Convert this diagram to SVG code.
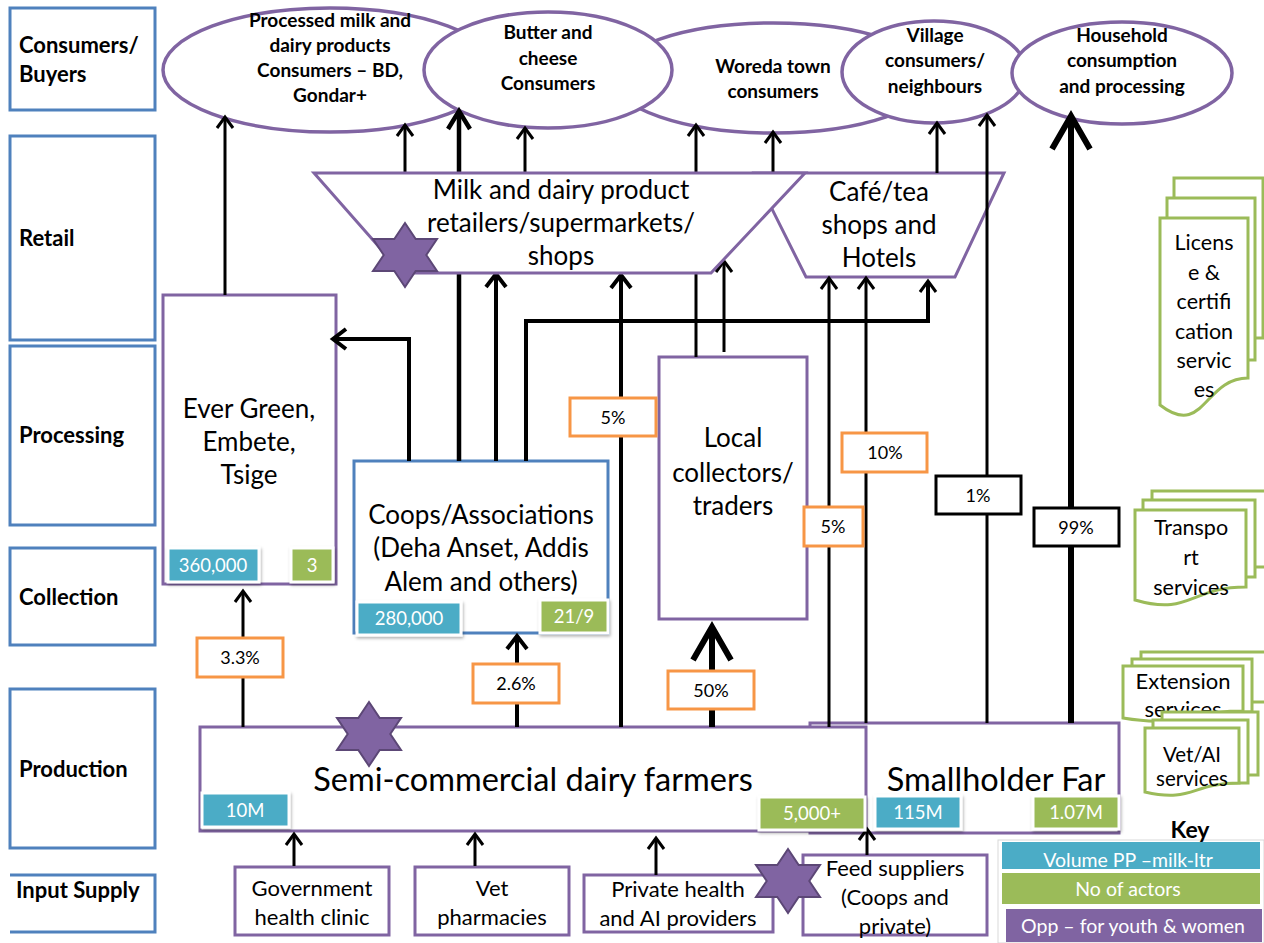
<svg xmlns="http://www.w3.org/2000/svg" width="1264" height="943" viewBox="0 0 1264 943">
<style>
.stage{fill:#fff;stroke:#4F81BD;stroke-width:3}
.stl{font-family:Lato,"Liberation Sans",sans-serif;font-weight:bold;font-size:22px;fill:#000}
.ell{fill:#fff;stroke:#8064A2;stroke-width:3.5}
.et{font-family:Lato,"Liberation Sans",sans-serif;font-weight:bold;font-size:19px;fill:#000;text-anchor:middle}
.pbox{fill:#fff;stroke:#8064A2;stroke-width:3}
.bbox{fill:#fff;stroke:#4F81BD;stroke-width:3}
.t24{font-family:Lato,"Liberation Sans",sans-serif;font-size:26px;fill:#000;text-anchor:middle}
.t21{font-family:Lato,"Liberation Sans",sans-serif;font-size:22px;fill:#000;text-anchor:middle}
.td{font-family:Lato,"Liberation Sans",sans-serif;font-size:21.5px;fill:#000;text-anchor:middle}
.t30{font-family:Lato,"Liberation Sans",sans-serif;font-size:32.5px;fill:#000;text-anchor:middle}
.pct{fill:#fff;stroke:#F79646;stroke-width:3}
.pctk{fill:#fff;stroke:#000;stroke-width:3}
.pt{font-family:Lato,"Liberation Sans",sans-serif;font-size:18px;fill:#000;text-anchor:middle}
.teal{fill:#4BACC6;stroke:#fff;stroke-width:3;filter:url(#sh)}
.grn{fill:#9BBB59;stroke:#fff;stroke-width:3;filter:url(#sh)}
.bt{font-family:Lato,"Liberation Sans",sans-serif;font-size:18.5px;fill:#fff;text-anchor:middle}
.doc{fill:#fff;stroke:#9BBB59;stroke-width:3}
.ln{fill:none;stroke:#000;stroke-width:3}
.ln4{fill:none;stroke:#000;stroke-width:4}
.ln6{fill:none;stroke:#000;stroke-width:6}
.star{fill:#8064A2;stroke:#5C4776;stroke-width:2}
.kt{font-family:Lato,"Liberation Sans",sans-serif;font-size:19.5px;fill:#fff;text-anchor:middle}
</style>
<defs>
<filter id="sh" x="-20%" y="-20%" width="140%" height="150%"><feDropShadow dx="1" dy="2" stdDeviation="1.5" flood-color="#000" flood-opacity="0.3"/></filter>
<marker id="ms" markerUnits="userSpaceOnUse" markerWidth="30" markerHeight="30" refX="0" refY="0" orient="auto" overflow="visible"><path d="M-11,-8 L0,0 L-11,8" fill="none" stroke="#000" stroke-width="3"/></marker>
<marker id="mm" markerUnits="userSpaceOnUse" markerWidth="30" markerHeight="30" refX="0" refY="0" orient="auto" overflow="visible"><path d="M-13,-10 L0,0 L-13,10" fill="none" stroke="#000" stroke-width="4"/></marker>
<marker id="mb" markerUnits="userSpaceOnUse" markerWidth="30" markerHeight="30" refX="0" refY="0" orient="auto" overflow="visible"><path d="M-18,-11 L0,0 L-18,11" fill="none" stroke="#000" stroke-width="4.5"/></marker>
<marker id="ml" markerUnits="userSpaceOnUse" markerWidth="60" markerHeight="60" refX="0" refY="0" orient="auto" overflow="visible"><path d="M-33,-19 L0,0 L-33,19" fill="none" stroke="#000" stroke-width="6"/></marker>
<polygon id="star6" points="0,-32 10.7,-16 32,-16 21.3,0 32,16 10.7,16 0,32 -10.7,16 -32,16 -21.3,0 -32,-16 -10.7,-16"/>
</defs>
<rect width="1264" height="943" fill="#fff"/>

<!-- stage column -->
<g id="stage-consumers"><rect class="stage" x="10" y="8" width="145" height="102"/><text class="stl" x="19" y="53">Consumers/</text><text class="stl" x="19" y="82">Buyers</text></g>
<g id="stage-retail"><rect class="stage" x="10" y="136" width="145" height="204"/><text class="stl" x="19" y="246">Retail</text></g>
<g id="stage-processing"><rect class="stage" x="10" y="346" width="145" height="179"/><text class="stl" x="19" y="443">Processing</text></g>
<g id="stage-collection"><rect class="stage" x="10" y="548" width="145" height="97"/><text class="stl" x="19" y="605">Collection</text></g>
<g id="stage-production"><rect class="stage" x="10" y="689" width="145" height="159"/><text class="stl" x="19" y="777">Production</text></g>
<g id="stage-input"><path class="stage" d="M10,875 H155 V932 H10"/><text class="stl" x="16" y="898">Input Supply</text></g>

<!-- consumer ellipses -->
<g id="ell-processed"><ellipse class="ell" cx="330" cy="70" rx="167" ry="62"/>
<text class="et" x="330" y="27">Processed milk and</text><text class="et" x="330" y="52">dairy products</text><text class="et" x="330" y="77">Consumers – BD,</text><text class="et" x="330" y="102">Gondar+</text></g>
<g id="ell-woreda"><ellipse class="ell" cx="773" cy="78" rx="160" ry="55"/>
<text class="et" x="773" y="73">Woreda town</text><text class="et" x="773" y="98">consumers</text></g>
<g id="ell-butter"><ellipse class="ell" cx="548" cy="70" rx="124" ry="58"/>
<text class="et" x="548" y="39">Butter and</text><text class="et" x="548" y="65">cheese</text><text class="et" x="548" y="90">Consumers</text></g>
<g id="ell-village"><ellipse class="ell" cx="934" cy="72" rx="92" ry="51"/>
<text class="et" x="935" y="42">Village</text><text class="et" x="935" y="67">consumers/</text><text class="et" x="935" y="93">neighbours</text></g>
<g id="ell-household"><ellipse class="ell" cx="1122" cy="73" rx="110" ry="51"/>
<text class="et" x="1122" y="42">Household</text><text class="et" x="1122" y="67">consumption</text><text class="et" x="1122" y="93">and processing</text></g>

<!-- cafe trapezoid -->
<g id="cafe"><polygon class="pbox" points="754,173 1004,173 955,277 806,277"/>
<text class="t24" x="879" y="201">Café/tea</text><text class="t24" x="879" y="234">shops and</text><text class="t24" x="879" y="267">Hotels</text></g>

<!-- processing / collection boxes -->
<g id="evergreen"><rect class="pbox" x="163" y="295" width="173" height="289"/>
<text class="t24" x="249" y="418">Ever Green,</text><text class="t24" x="249" y="451">Embete,</text><text class="t24" x="249" y="484">Tsige</text></g>
<g id="coops"><rect class="bbox" x="354" y="461" width="254" height="172"/>
<text class="t24" x="481" y="524">Coops/Associations</text><text class="t24" x="481" y="557">(Deha Anset, Addis</text><text class="t24" x="481" y="591">Alem and others)</text></g>
<g id="local"><rect class="pbox" x="659" y="357" width="148" height="262"/>
<text class="t24" x="733" y="447">Local</text><text class="t24" x="733" y="482">collectors/</text><text class="t24" x="733" y="515">traders</text></g>

<!-- production -->
<g id="smallholder"><rect class="pbox" x="810" y="723" width="309" height="110"/>
<text class="t30" x="996" y="791">Smallholder Far</text></g>
<g id="semicommercial"><rect class="pbox" x="200" y="727" width="666" height="104"/>
<text class="t30" x="533" y="791">Semi-commercial dairy farmers</text></g>

<!-- input supply -->
<g id="in-gov"><rect class="pbox" x="235" y="867" width="154" height="68"/><text class="t21" x="312" y="896">Government</text><text class="t21" x="312" y="925">health clinic</text></g>
<g id="in-vet"><rect class="pbox" x="415" y="867" width="154" height="68"/><text class="t21" x="492" y="896">Vet</text><text class="t21" x="492" y="925">pharmacies</text></g>
<g id="in-private"><rect class="pbox" x="584" y="875" width="189" height="57"/><text class="t21" x="678" y="897">Private health</text><text class="t21" x="678" y="926">and AI providers</text></g>
<g id="in-feed"><rect class="pbox" x="803" y="855" width="184" height="80"/><text class="t21" x="895" y="876">Feed suppliers</text><text class="t21" x="895" y="905">(Coops and</text><text class="t21" x="895" y="934">private)</text></g>

<!-- connectors -->
<g id="connectors">
<path class="ln" d="M225,295 V117" marker-end="url(#ms)"/>
<path class="ln" d="M243,727 V591" marker-end="url(#ms)"/>
<path class="ln4" d="M409,461 V339 H333" marker-end="url(#mm)"/>
<path class="ln4" d="M459,461 V111" style="stroke-width:4.5" marker-end="url(#mb)"/>
<path class="ln4" d="M496,461 V274" marker-end="url(#mm)"/>
<path class="ln4" d="M526,461 V321 H928 V281" marker-end="url(#ms)"/>
<path class="ln4" d="M621,727 V275" marker-end="url(#mm)"/>
<path class="ln4" d="M517,727 V636" marker-end="url(#mm)"/>
<path class="ln6" d="M712,727 V627" marker-end="url(#ml)"/>
<path class="ln" d="M696,357 V125" marker-end="url(#ms)"/>
<path class="ln" d="M724,352 V261" marker-end="url(#ms)"/>
<path class="ln" d="M405,173 V125" marker-end="url(#ms)"/>
<path class="ln" d="M525,173 V128" marker-end="url(#ms)"/>
<path class="ln" d="M773,173 V132" marker-end="url(#ms)"/>
<path class="ln" d="M937,173 V123" marker-end="url(#ms)"/>
<path class="ln" d="M987,723 V115" marker-end="url(#ms)"/>
<path class="ln6" d="M1071,723 V116" marker-end="url(#ml)"/>
<path class="ln" d="M829,727 V278" marker-end="url(#ms)"/>
<path class="ln" d="M866,723 V278" marker-end="url(#ms)"/>
<path class="ln" d="M294,866 V834" marker-end="url(#ms)"/>
<path class="ln" d="M475,866 V834" marker-end="url(#ms)"/>
<path class="ln" d="M656,875 V838" marker-end="url(#ms)"/>
<path class="ln" d="M867,855 V829" marker-end="url(#ms)"/>
</g>

<!-- retail trapezoid (over connectors) -->
<g id="retailers"><polygon class="pbox" points="314,173 805,173 711,273 402,273"/>
<text class="t24" x="561" y="199">Milk and dairy product</text><text class="t24" x="561" y="232">retailers/supermarkets/</text><text class="t24" x="561" y="265">shops</text></g>

<!-- percentage labels -->
<g id="pct-33"><rect class="pct" x="197" y="638" width="86" height="39"/><text class="pt" x="240" y="664">3.3%</text></g>
<g id="pct-26"><rect class="pct" x="473" y="664" width="86" height="39"/><text class="pt" x="516" y="690">2.6%</text></g>
<g id="pct-5a"><rect class="pct" x="570" y="398" width="86" height="38"/><text class="pt" x="613" y="424">5%</text></g>
<g id="pct-50"><rect class="pct" x="668" y="671" width="86" height="38"/><text class="pt" x="711" y="697">50%</text></g>
<g id="pct-5b"><rect class="pct" x="804" y="507" width="59" height="39"/><text class="pt" x="833" y="533">5%</text></g>
<g id="pct-10"><rect class="pct" x="842" y="433" width="85" height="39"/><text class="pt" x="885" y="459">10%</text></g>
<g id="pct-1"><rect class="pctk" x="936" y="476" width="85" height="38"/><text class="pt" x="978" y="502">1%</text></g>
<g id="pct-99"><rect class="pctk" x="1034" y="508" width="85" height="38"/><text class="pt" x="1076" y="534">99%</text></g>

<!-- badges -->
<g id="b-360"><rect class="teal" x="168" y="548" width="91" height="34"/><text class="bt" x="213" y="572">360,000</text></g>
<g id="b-3"><rect class="grn" x="291" y="548" width="42" height="34"/><text class="bt" x="312" y="572">3</text></g>
<g id="b-280"><rect class="teal" x="357" y="602" width="104" height="33"/><text class="bt" x="409" y="625">280,000</text></g>
<g id="b-219"><rect class="grn" x="540" y="600" width="68" height="33"/><text class="bt" x="574" y="623">21/9</text></g>
<g id="b-10m"><rect class="teal" x="202" y="793" width="87" height="34"/><text class="bt" x="245" y="817">10M</text></g>
<g id="b-5000"><rect class="grn" x="759" y="797" width="106" height="33"/><text class="bt" x="812" y="820">5,000+</text></g>
<g id="b-115m"><rect class="teal" x="875" y="796" width="86" height="33"/><text class="bt" x="918" y="819">115M</text></g>
<g id="b-107m"><rect class="grn" x="1033" y="796" width="86" height="33"/><text class="bt" x="1076" y="819">1.07M</text></g>

<!-- stars -->
<g id="star-retail"><use href="#star6" class="star" x="405" y="255"/></g>
<g id="star-production"><use href="#star6" class="star" x="369" y="734"/></g>
<g id="star-input"><use href="#star6" class="star" x="788" y="881"/></g>

<!-- service documents -->
<g id="doc-license">
<rect class="doc" x="1174" y="178" width="89" height="160"/>
<rect class="doc" x="1167" y="198" width="88" height="162"/>
<path class="doc" d="M1160,218 H1248 V378 C1204,378 1204,439 1160,405 Z"/>
<text class="td" x="1204" y="250">Licens</text><text class="td" x="1204" y="280">e &amp;</text><text class="td" x="1204" y="309">certifi</text><text class="td" x="1204" y="339">cation</text><text class="td" x="1204" y="368">servic</text><text class="td" x="1204" y="397">es</text>
</g>
<g id="doc-transport">
<rect class="doc" x="1152" y="491" width="116" height="76"/>
<rect class="doc" x="1143" y="500" width="112" height="77"/>
<path class="doc" d="M1135,510 H1246 V587 C1190,587 1190,616 1135,600 Z"/>
<text class="td" x="1191" y="535">Transpo</text><text class="td" x="1191" y="565">rt</text><text class="td" x="1191" y="595">services</text>
</g>
<g id="doc-extension">
<rect class="doc" x="1141" y="652" width="127" height="50"/>
<rect class="doc" x="1132" y="659" width="120" height="53"/>
<path class="doc" d="M1123,666 H1243 V711 C1183,711 1183,728 1123,718 Z"/>
<text class="td" x="1183" y="689" style="font-size:22px">Extension</text><text class="td" x="1183" y="717" style="font-size:22px">services</text>
</g>
<g id="doc-vetai">
<rect class="doc" x="1162" y="712" width="96" height="63"/>
<rect class="doc" x="1153" y="720" width="95" height="63"/>
<path class="doc" d="M1145,728 H1239 V783 C1192,783 1192,803 1145,792 Z"/>
<text class="td" x="1192" y="762" style="font-size:20.5px">Vet/AI</text><text class="td" x="1192" y="786" style="font-size:20.5px">services</text>
</g>

<!-- key -->
<g id="key">
<rect x="998" y="840" width="266" height="103" fill="none" stroke="#d9d9d9" stroke-width="1"/>
<text x="1190" y="838" style="font-family:Lato,'Liberation Sans',sans-serif;font-weight:bold;font-size:23px;text-anchor:middle">Key</text>
<rect x="1002" y="842" width="258" height="27" fill="#4BACC6"/><text class="kt" x="1128" y="867">Volume PP –milk-ltr</text>
<rect x="1002" y="873" width="258" height="31" fill="#9BBB59"/><text class="kt" x="1128" y="896">No of actors</text>
<rect x="1006" y="909" width="256" height="33" fill="#8064A2"/><text class="kt" x="1133" y="933">Opp – for youth &amp; women</text>
</g>
</svg>
